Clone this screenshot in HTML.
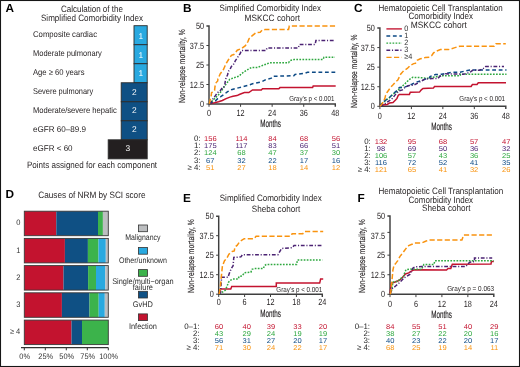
<!DOCTYPE html>
<html><head><meta charset="utf-8"><style>
html,body{margin:0;padding:0;background:#fff;width:520px;height:367px;overflow:hidden}
svg{display:block;font-family:"Liberation Sans", sans-serif;will-change:transform;text-rendering:geometricPrecision}
</style></head><body>
<svg width="520" height="367" viewBox="0 0 520 367">
<rect x="0.5" y="0.5" width="519" height="366" fill="#fff" stroke="#161616" stroke-width="1.1"/>
<text x="5.4" y="12.1" font-size="11.8" text-anchor="start" fill="#000" font-weight="bold">A</text>
<text x="91.95" y="12.1" font-size="9.2" text-anchor="middle" fill="#231f20" font-weight="normal" textLength="61.9" lengthAdjust="spacingAndGlyphs">Calculation of the</text>
<text x="92.05" y="20.8" font-size="9.2" text-anchor="middle" fill="#231f20" font-weight="normal" textLength="102.1" lengthAdjust="spacingAndGlyphs">Simplified Comorbidity Index</text>
<text x="33" y="36.8" font-size="8.4" text-anchor="start" fill="#231f20" font-weight="normal" textLength="64" lengthAdjust="spacingAndGlyphs">Composite cardiac</text>
<text x="33" y="55.82" font-size="8.4" text-anchor="start" fill="#231f20" font-weight="normal" textLength="68.8" lengthAdjust="spacingAndGlyphs">Moderate pulmonary</text>
<text x="33" y="74.84" font-size="8.4" text-anchor="start" fill="#231f20" font-weight="normal" textLength="51.5" lengthAdjust="spacingAndGlyphs">Age ≥ 60 years</text>
<text x="33" y="93.86" font-size="8.4" text-anchor="start" fill="#231f20" font-weight="normal" textLength="60.2" lengthAdjust="spacingAndGlyphs">Severe pulmonary</text>
<text x="33" y="112.88" font-size="8.4" text-anchor="start" fill="#231f20" font-weight="normal" textLength="83.8" lengthAdjust="spacingAndGlyphs">Moderate/severe hepatic</text>
<text x="33" y="131.9" font-size="8.4" text-anchor="start" fill="#231f20" font-weight="normal" textLength="53.1" lengthAdjust="spacingAndGlyphs">eGFR 60–89.9</text>
<text x="33" y="150.92" font-size="8.4" text-anchor="start" fill="#231f20" font-weight="normal" textLength="39.6" lengthAdjust="spacingAndGlyphs">eGFR &lt; 60</text>
<rect x="134" y="25.70" width="13.20" height="19.02" fill="#29a9e0" stroke="#2b2b2b" stroke-width="0.9"/>
<text x="140.8" y="39.1" font-size="8.4" text-anchor="middle" fill="#fff" font-weight="normal">1</text>
<rect x="134" y="44.72" width="13.20" height="19.02" fill="#29a9e0" stroke="#2b2b2b" stroke-width="0.9"/>
<text x="140.8" y="57.7" font-size="8.4" text-anchor="middle" fill="#fff" font-weight="normal">1</text>
<rect x="134" y="63.74" width="13.20" height="19.02" fill="#29a9e0" stroke="#2b2b2b" stroke-width="0.9"/>
<text x="140.8" y="76.4" font-size="8.4" text-anchor="middle" fill="#fff" font-weight="normal">1</text>
<rect x="121.2" y="82.76" width="26.00" height="19.02" fill="#0f5084" stroke="#2b2b2b" stroke-width="0.9"/>
<text x="134.4" y="95.3" font-size="8.4" text-anchor="middle" fill="#fff" font-weight="normal">2</text>
<rect x="121.2" y="101.78" width="26.00" height="19.02" fill="#0f5084" stroke="#2b2b2b" stroke-width="0.9"/>
<text x="134.4" y="113.0" font-size="8.4" text-anchor="middle" fill="#fff" font-weight="normal">2</text>
<rect x="121.2" y="120.80" width="26.00" height="19.02" fill="#0f5084" stroke="#2b2b2b" stroke-width="0.9"/>
<text x="134.4" y="131.5" font-size="8.4" text-anchor="middle" fill="#fff" font-weight="normal">2</text>
<rect x="108.2" y="139.82" width="39.00" height="19.02" fill="#231f20" stroke="#2b2b2b" stroke-width="0.9"/>
<text x="127.9" y="151.0" font-size="8.4" text-anchor="middle" fill="#fff" font-weight="normal">3</text>
<text x="92.05" y="167.5" font-size="9.2" text-anchor="middle" fill="#231f20" font-weight="normal" textLength="130.1" lengthAdjust="spacingAndGlyphs">Points assigned for each component</text>
<text x="183" y="12.1" font-size="11.8" text-anchor="start" fill="#000" font-weight="bold">B</text>
<text x="270.35" y="10.6" font-size="9.2" text-anchor="middle" fill="#231f20" font-weight="normal" textLength="101.5" lengthAdjust="spacingAndGlyphs">Simplified Comorbidity Index</text>
<text x="272.3" y="20.8" font-size="9.2" text-anchor="middle" fill="#231f20" font-weight="normal" textLength="55.4" lengthAdjust="spacingAndGlyphs">MSKCC cohort</text>
<path d="M206.4,26 L209,26 L209,104 L335.3,104 L335.3,106.8" fill="none" stroke="#3f3f3f" stroke-width="1.45"/>
<path d="M206.4,104.00 L209,104.00" stroke="#3f3f3f" stroke-width="1"/>
<text x="204.0" y="107.1" font-size="9" text-anchor="end" fill="#231f20" font-weight="normal" textLength="4.06" lengthAdjust="spacingAndGlyphs">0</text>
<path d="M206.4,84.50 L209,84.50" stroke="#3f3f3f" stroke-width="1"/>
<text x="204.0" y="87.6" font-size="9" text-anchor="end" fill="#231f20" font-weight="normal" textLength="14.21" lengthAdjust="spacingAndGlyphs">12.5</text>
<path d="M206.4,65.00 L209,65.00" stroke="#3f3f3f" stroke-width="1"/>
<text x="204.0" y="68.1" font-size="9" text-anchor="end" fill="#231f20" font-weight="normal" textLength="8.12" lengthAdjust="spacingAndGlyphs">25</text>
<path d="M206.4,45.50 L209,45.50" stroke="#3f3f3f" stroke-width="1"/>
<text x="204.0" y="48.6" font-size="9" text-anchor="end" fill="#231f20" font-weight="normal" textLength="14.21" lengthAdjust="spacingAndGlyphs">37.5</text>
<text x="204.0" y="29.1" font-size="9" text-anchor="end" fill="#231f20" font-weight="normal" textLength="8.12" lengthAdjust="spacingAndGlyphs">50</text>
<path d="M209.00,104 L209.00,106.8" stroke="#3f3f3f" stroke-width="1"/>
<text x="209.0" y="116.0" font-size="9" text-anchor="middle" fill="#231f20" font-weight="normal" textLength="4.06" lengthAdjust="spacingAndGlyphs">0</text>
<path d="M240.57,104 L240.57,106.8" stroke="#3f3f3f" stroke-width="1"/>
<text x="240.57" y="116.0" font-size="9" text-anchor="middle" fill="#231f20" font-weight="normal" textLength="8.12" lengthAdjust="spacingAndGlyphs">12</text>
<path d="M272.15,104 L272.15,106.8" stroke="#3f3f3f" stroke-width="1"/>
<text x="272.15" y="116.0" font-size="9" text-anchor="middle" fill="#231f20" font-weight="normal" textLength="8.12" lengthAdjust="spacingAndGlyphs">24</text>
<path d="M303.73,104 L303.73,106.8" stroke="#3f3f3f" stroke-width="1"/>
<text x="303.73" y="116.0" font-size="9" text-anchor="middle" fill="#231f20" font-weight="normal" textLength="8.12" lengthAdjust="spacingAndGlyphs">36</text>
<text x="335.3" y="116.0" font-size="9" text-anchor="middle" fill="#231f20" font-weight="normal" textLength="8.12" lengthAdjust="spacingAndGlyphs">48</text>
<text x="270.5" y="127.4" font-size="10.4" text-anchor="middle" fill="#231f20" font-weight="normal" textLength="20.6" lengthAdjust="spacingAndGlyphs" stroke="#231f20" stroke-width="0.18">Months</text>
<text x="0" y="0" font-size="8.9" text-anchor="middle" fill="#231f20" textLength="73.6" lengthAdjust="spacingAndGlyphs" stroke="#231f20" stroke-width="0.15" transform="translate(185.39999999999998,66.1) rotate(-90)">Non-relapse mortality, %</text>
<path d="M209.3,103.8 L214.6,102.8 L218.5,101.7 L222.3,100.5 L226.1,98.6 L229.9,97.1 L233,96.3 L237,95.6 L239.3,94.5 L244.4,92.6 L248.8,92.6 L252.5,90 L261.3,90 L262.5,88.8 L278.8,88.8 L280,87.6 L312.6,87.6 L313.2,86 L335.7,86" fill="none" stroke="#c3132f" stroke-width="1.5" stroke-linejoin="miter" stroke-linecap="butt"/>
<path d="M209.3,103.8 L212.3,102.4 L215.4,100.9 L217.7,98.6 L220.7,96.7 L224.6,94 L227.6,91.7 L231.4,89.8 L235.2,88.7 L239.3,87.6 L244.4,86.3 L247.5,85.5 L252.5,83.8 L261.3,82 L266.3,79.4 L271.3,78.2 L272.6,76.3 L293.8,75.7 L295,74.4 L305,73.2 L307.5,72.3 L335.7,72.3" fill="none" stroke="#0d4a85" stroke-width="1.5" stroke-dasharray="3.8,2.7" stroke-linejoin="miter" stroke-linecap="butt"/>
<path d="M209.3,103.8 L211.6,101.7 L214.6,98.6 L216.9,96.3 L219.2,94 L221.5,91 L223.8,87.2 L226.1,84.1 L228.4,81 L229.7,79.4 L233.8,77.8 L238.7,76.2 L243.6,72.1 L251.3,67.5 L257.5,67.5 L263.8,65 L270,62.7 L288.6,62.7 L290,60.6 L294,59.5 L323,59.5 L324,57.3 L335,57.3" fill="none" stroke="#2ea83f" stroke-width="1.5" stroke-dasharray="1.7,1.36" stroke-linejoin="miter" stroke-linecap="butt"/>
<path d="M209.3,103.8 L210.8,102.4 L213.1,98.6 L215.4,95.6 L217.7,92.5 L220,91 L222.3,87.9 L223.8,87.2 L224.9,84.1 L225.3,81 L226,78.2 L227.7,74.5 L228.1,71.7 L230.1,69.2 L231.4,66.4 L233.8,63.9 L235.4,60.6 L237.1,58.2 L238.7,55.7 L240.3,53.3 L241.4,50.6 L265.8,50.6 L267.2,47.9 L298.2,47.9 L299.5,44.5 L315.2,44.5 L315.9,40.4 L335,40.4" fill="none" stroke="#4b2373" stroke-width="1.5" stroke-dasharray="3.8,1.75,1.1,1.75" stroke-linejoin="miter" stroke-linecap="butt"/>
<path d="M209.3,103.8 L210,100.9 L211.2,95.6 L211.6,92.5 L213.9,91.7 L214.6,90.2 L215,86.4 L216.2,82.6 L217.7,81 L217.9,79 L220.3,73.7 L223.2,70 L225.2,65.5 L226.4,63.1 L228.9,59 L231.4,55.3 L233.8,54.5 L235.9,52 L237.3,50.2 L241.4,48.5 L245.4,45.7 L247.9,41.6 L249.1,38.7 L252,35.9 L256.1,32.6 L260.2,32.2 L262.2,30.1 L265,29.5 L288.6,29.5 L289.3,26.1 L335.6,26.1" fill="none" stroke="#f9930f" stroke-width="1.5" stroke-dasharray="5.2,2.4" stroke-linejoin="miter" stroke-linecap="butt"/>
<text x="311.8" y="100.6" font-size="7.3" text-anchor="middle" fill="#231f20" font-weight="normal" textLength="45.2" lengthAdjust="spacingAndGlyphs">Gray’s p &lt; 0.001</text>
<text x="200.5" y="141.0" font-size="7.9" text-anchor="end" fill="#262626" font-weight="normal">0:</text>
<text x="210.3" y="141.0" font-size="7" text-anchor="middle" fill="#c3132f" font-weight="normal" textLength="12.61" lengthAdjust="spacingAndGlyphs">156</text>
<text x="241.5" y="141.0" font-size="7" text-anchor="middle" fill="#c3132f" font-weight="normal" textLength="12.05" lengthAdjust="spacingAndGlyphs">114</text>
<text x="272.5" y="141.0" font-size="7" text-anchor="middle" fill="#c3132f" font-weight="normal" textLength="8.41" lengthAdjust="spacingAndGlyphs">84</text>
<text x="304" y="141.0" font-size="7" text-anchor="middle" fill="#c3132f" font-weight="normal" textLength="8.41" lengthAdjust="spacingAndGlyphs">68</text>
<text x="336" y="141.0" font-size="7" text-anchor="middle" fill="#c3132f" font-weight="normal" textLength="8.41" lengthAdjust="spacingAndGlyphs">56</text>
<text x="200.5" y="148.2" font-size="7.9" text-anchor="end" fill="#262626" font-weight="normal">1:</text>
<text x="210.3" y="148.2" font-size="7" text-anchor="middle" fill="#4b2373" font-weight="normal" textLength="12.61" lengthAdjust="spacingAndGlyphs">175</text>
<text x="241.5" y="148.2" font-size="7" text-anchor="middle" fill="#4b2373" font-weight="normal" textLength="12.05" lengthAdjust="spacingAndGlyphs">117</text>
<text x="272.5" y="148.2" font-size="7" text-anchor="middle" fill="#4b2373" font-weight="normal" textLength="8.41" lengthAdjust="spacingAndGlyphs">83</text>
<text x="304" y="148.2" font-size="7" text-anchor="middle" fill="#4b2373" font-weight="normal" textLength="8.41" lengthAdjust="spacingAndGlyphs">66</text>
<text x="336" y="148.2" font-size="7" text-anchor="middle" fill="#4b2373" font-weight="normal" textLength="8.41" lengthAdjust="spacingAndGlyphs">51</text>
<text x="200.5" y="155.4" font-size="7.9" text-anchor="end" fill="#262626" font-weight="normal">2:</text>
<text x="210.3" y="155.4" font-size="7" text-anchor="middle" fill="#2ea83f" font-weight="normal" textLength="12.61" lengthAdjust="spacingAndGlyphs">124</text>
<text x="241.5" y="155.4" font-size="7" text-anchor="middle" fill="#2ea83f" font-weight="normal" textLength="8.41" lengthAdjust="spacingAndGlyphs">68</text>
<text x="272.5" y="155.4" font-size="7" text-anchor="middle" fill="#2ea83f" font-weight="normal" textLength="8.41" lengthAdjust="spacingAndGlyphs">47</text>
<text x="304" y="155.4" font-size="7" text-anchor="middle" fill="#2ea83f" font-weight="normal" textLength="8.41" lengthAdjust="spacingAndGlyphs">37</text>
<text x="336" y="155.4" font-size="7" text-anchor="middle" fill="#2ea83f" font-weight="normal" textLength="8.41" lengthAdjust="spacingAndGlyphs">30</text>
<text x="200.5" y="162.6" font-size="7.9" text-anchor="end" fill="#262626" font-weight="normal">3:</text>
<text x="210.3" y="162.6" font-size="7" text-anchor="middle" fill="#0d4a85" font-weight="normal" textLength="8.41" lengthAdjust="spacingAndGlyphs">67</text>
<text x="241.5" y="162.6" font-size="7" text-anchor="middle" fill="#0d4a85" font-weight="normal" textLength="8.41" lengthAdjust="spacingAndGlyphs">32</text>
<text x="272.5" y="162.6" font-size="7" text-anchor="middle" fill="#0d4a85" font-weight="normal" textLength="8.41" lengthAdjust="spacingAndGlyphs">22</text>
<text x="304" y="162.6" font-size="7" text-anchor="middle" fill="#0d4a85" font-weight="normal" textLength="8.41" lengthAdjust="spacingAndGlyphs">17</text>
<text x="336" y="162.6" font-size="7" text-anchor="middle" fill="#0d4a85" font-weight="normal" textLength="8.41" lengthAdjust="spacingAndGlyphs">16</text>
<text x="200.5" y="169.8" font-size="7.9" text-anchor="end" fill="#262626" font-weight="normal">≥ 4:</text>
<text x="210.3" y="169.8" font-size="7" text-anchor="middle" fill="#f9930f" font-weight="normal" textLength="8.41" lengthAdjust="spacingAndGlyphs">51</text>
<text x="241.5" y="169.8" font-size="7" text-anchor="middle" fill="#f9930f" font-weight="normal" textLength="8.41" lengthAdjust="spacingAndGlyphs">27</text>
<text x="272.5" y="169.8" font-size="7" text-anchor="middle" fill="#f9930f" font-weight="normal" textLength="8.41" lengthAdjust="spacingAndGlyphs">18</text>
<text x="304" y="169.8" font-size="7" text-anchor="middle" fill="#f9930f" font-weight="normal" textLength="8.41" lengthAdjust="spacingAndGlyphs">14</text>
<text x="336" y="169.8" font-size="7" text-anchor="middle" fill="#f9930f" font-weight="normal" textLength="8.41" lengthAdjust="spacingAndGlyphs">12</text>
<text x="354" y="12.2" font-size="11.8" text-anchor="start" fill="#000" font-weight="bold">C</text>
<text x="440.5" y="10.5" font-size="9.2" text-anchor="middle" fill="#231f20" font-weight="normal" textLength="124.2" lengthAdjust="spacingAndGlyphs">Hematopoietic Cell Transplantation</text>
<text x="440.8" y="18.8" font-size="9.2" text-anchor="middle" fill="#231f20" font-weight="normal" textLength="64.4" lengthAdjust="spacingAndGlyphs">Comorbidity Index</text>
<text x="438.8" y="27.6" font-size="9.2" text-anchor="middle" fill="#231f20" font-weight="normal" textLength="56.2" lengthAdjust="spacingAndGlyphs">MSKCC cohort</text>
<path d="M377.29999999999995,28 L379.9,28 L379.9,106.3 L505.8,106.3 L505.8,109.1" fill="none" stroke="#3f3f3f" stroke-width="1.45"/>
<path d="M377.29999999999995,106.30 L379.9,106.30" stroke="#3f3f3f" stroke-width="1"/>
<text x="374.9" y="109.4" font-size="9" text-anchor="end" fill="#231f20" font-weight="normal" textLength="4.06" lengthAdjust="spacingAndGlyphs">0</text>
<path d="M377.29999999999995,86.72 L379.9,86.72" stroke="#3f3f3f" stroke-width="1"/>
<text x="374.9" y="89.82" font-size="9" text-anchor="end" fill="#231f20" font-weight="normal" textLength="14.21" lengthAdjust="spacingAndGlyphs">12.5</text>
<path d="M377.29999999999995,67.15 L379.9,67.15" stroke="#3f3f3f" stroke-width="1"/>
<text x="374.9" y="70.25" font-size="9" text-anchor="end" fill="#231f20" font-weight="normal" textLength="8.12" lengthAdjust="spacingAndGlyphs">25</text>
<path d="M377.29999999999995,47.58 L379.9,47.58" stroke="#3f3f3f" stroke-width="1"/>
<text x="374.9" y="50.68" font-size="9" text-anchor="end" fill="#231f20" font-weight="normal" textLength="14.21" lengthAdjust="spacingAndGlyphs">37.5</text>
<text x="374.9" y="31.1" font-size="9" text-anchor="end" fill="#231f20" font-weight="normal" textLength="8.12" lengthAdjust="spacingAndGlyphs">50</text>
<path d="M379.90,106.3 L379.90,109.1" stroke="#3f3f3f" stroke-width="1"/>
<text x="379.9" y="118.7" font-size="9" text-anchor="middle" fill="#231f20" font-weight="normal" textLength="4.06" lengthAdjust="spacingAndGlyphs">0</text>
<path d="M411.38,106.3 L411.38,109.1" stroke="#3f3f3f" stroke-width="1"/>
<text x="411.38" y="118.7" font-size="9" text-anchor="middle" fill="#231f20" font-weight="normal" textLength="8.12" lengthAdjust="spacingAndGlyphs">12</text>
<path d="M442.85,106.3 L442.85,109.1" stroke="#3f3f3f" stroke-width="1"/>
<text x="442.85" y="118.7" font-size="9" text-anchor="middle" fill="#231f20" font-weight="normal" textLength="8.12" lengthAdjust="spacingAndGlyphs">24</text>
<path d="M474.32,106.3 L474.32,109.1" stroke="#3f3f3f" stroke-width="1"/>
<text x="474.32" y="118.7" font-size="9" text-anchor="middle" fill="#231f20" font-weight="normal" textLength="8.12" lengthAdjust="spacingAndGlyphs">36</text>
<text x="505.8" y="118.7" font-size="9" text-anchor="middle" fill="#231f20" font-weight="normal" textLength="8.12" lengthAdjust="spacingAndGlyphs">48</text>
<text x="441.5" y="129.7" font-size="10.4" text-anchor="middle" fill="#231f20" font-weight="normal" textLength="20.6" lengthAdjust="spacingAndGlyphs" stroke="#231f20" stroke-width="0.18">Months</text>
<text x="0" y="0" font-size="8.9" text-anchor="middle" fill="#231f20" textLength="73.6" lengthAdjust="spacingAndGlyphs" stroke="#231f20" stroke-width="0.15" transform="translate(357.2,71.19999999999999) rotate(-90)">Non-relapse mortality, %</text>
<path d="M386.4,28.90 L401.9,28.90" stroke="#c3132f" stroke-width="1.35" fill="none"/>
<text x="404.3" y="31.0" font-size="7.8" text-anchor="start" fill="#333" font-weight="normal" textLength="4.06" lengthAdjust="spacingAndGlyphs">0</text>
<path d="M386.4,36.00 L401.9,36.00" stroke="#0d4a85" stroke-width="1.35" fill="none" stroke-dasharray="3.8,2.7"/>
<text x="404.3" y="38.1" font-size="7.8" text-anchor="start" fill="#333" font-weight="normal" textLength="4.06" lengthAdjust="spacingAndGlyphs">1</text>
<path d="M386.4,43.10 L401.9,43.10" stroke="#2ea83f" stroke-width="1.35" fill="none" stroke-dasharray="1.7,1.36"/>
<text x="404.3" y="45.2" font-size="7.8" text-anchor="start" fill="#333" font-weight="normal" textLength="4.06" lengthAdjust="spacingAndGlyphs">2</text>
<path d="M386.4,50.20 L401.9,50.20" stroke="#4b2373" stroke-width="1.35" fill="none" stroke-dasharray="3.8,1.75,1.1,1.75"/>
<text x="404.3" y="52.3" font-size="7.8" text-anchor="start" fill="#333" font-weight="normal" textLength="4.06" lengthAdjust="spacingAndGlyphs">3</text>
<path d="M386.4,57.30 L401.9,57.30" stroke="#f9930f" stroke-width="1.35" fill="none" stroke-dasharray="5.2,2.4"/>
<text x="404.3" y="59.4" font-size="7.8" text-anchor="start" fill="#333" font-weight="normal" textLength="8.07" lengthAdjust="spacingAndGlyphs">≥4</text>
<path d="M379.9,106.3 L380.3,105.3 L387.2,104.5 L389.5,103 L393,102.6 L395.3,100.2 L397,98.4 L398.2,95.5 L399.3,94.4 L409.4,94.4 L410.3,92.2 L419.5,92.1 L421.3,89.8 L423,88.4 L433.4,88.1 L434.5,86.5 L471.1,86.5 L472.4,84.5 L477,84.5 L478.3,82.7 L506,82.7" fill="none" stroke="#c3132f" stroke-width="1.5" stroke-linejoin="miter" stroke-linecap="butt"/>
<path d="M379.9,106.3 L381.8,103.7 L385.6,100.6 L389.5,97.6 L393.3,94.1 L397.1,91.1 L400.9,87.6 L404,84.6 L405.4,83.3 L409.1,79.6 L412.8,77.3 L421.1,77.7 L425.8,78.2 L430,78.1 L434.6,76.9 L441.5,75.8 L460,75.8 L460.8,74.2 L506.5,74.2" fill="none" stroke="#2ea83f" stroke-width="1.5" stroke-dasharray="1.7,1.36" stroke-linejoin="miter" stroke-linecap="butt"/>
<path d="M379.9,106.3 L382.6,102.1 L385.6,100.2 L390.2,96.8 L393.3,93.7 L396.3,91.1 L399.4,87.6 L403.6,87.5 L407.3,86.1 L411.9,84.2 L415.6,82.4 L420.2,81 L423.9,79.6 L429.5,77.7 L430,76.5 L435.4,74.6 L441.5,74.2 L451.5,72.3 L459.2,72.3 L464.6,71.2 L470,70 L506.5,69.9" fill="none" stroke="#0d4a85" stroke-width="1.5" stroke-dasharray="3.8,2.7" stroke-linejoin="miter" stroke-linecap="butt"/>
<path d="M379.9,106.3 L384.1,104.4 L387.2,102.1 L389.5,100.6 L392.5,98.3 L396.3,93.4 L399.4,90.7 L402.4,89.9 L405.4,87 L409.1,85.6 L413.7,85.1 L418.4,82.8 L423.9,79.6 L428.6,78.7 L432.3,78.5 L437.7,78.5 L440,76.2 L445.4,73.8 L463.8,74.2 L470,72.3 L472.6,70.3 L479.5,70.3 L484.2,68 L485.7,66.5 L504,66.5" fill="none" stroke="#4b2373" stroke-width="1.5" stroke-dasharray="3.8,1.75,1.1,1.75" stroke-linejoin="miter" stroke-linecap="butt"/>
<path d="M379.9,106.3 L381,105.2 L383.3,102.1 L384.9,98.3 L385.6,95.3 L387.2,92.2 L389.1,89.5 L391,86.9 L393.3,84.6 L395.6,81.9 L397.8,80 L400.8,74 L403.6,70.8 L407.3,68.5 L410.5,65.3 L413.7,63.6 L415.4,63.3 L417.1,60.4 L420.3,58.8 L425.3,57.6 L429.3,57.2 L431.8,55.5 L433.4,53.1 L434.6,51.9 L440.4,49.6 L448.5,49.6 L454.2,47.9 L459.6,46.2 L494.2,46.2 L496,43.8 L505.8,43.8" fill="none" stroke="#f9930f" stroke-width="1.5" stroke-dasharray="5.2,2.4" stroke-linejoin="miter" stroke-linecap="butt"/>
<text x="482.2" y="101.2" font-size="7.3" text-anchor="middle" fill="#231f20" font-weight="normal" textLength="45.8" lengthAdjust="spacingAndGlyphs">Gray’s p &lt; 0.001</text>
<text x="370.8" y="144.0" font-size="7.9" text-anchor="end" fill="#262626" font-weight="normal">0:</text>
<text x="381" y="144.0" font-size="7" text-anchor="middle" fill="#c3132f" font-weight="normal" textLength="12.61" lengthAdjust="spacingAndGlyphs">132</text>
<text x="412" y="144.0" font-size="7" text-anchor="middle" fill="#c3132f" font-weight="normal" textLength="8.41" lengthAdjust="spacingAndGlyphs">95</text>
<text x="443" y="144.0" font-size="7" text-anchor="middle" fill="#c3132f" font-weight="normal" textLength="8.41" lengthAdjust="spacingAndGlyphs">68</text>
<text x="474.1" y="144.0" font-size="7" text-anchor="middle" fill="#c3132f" font-weight="normal" textLength="8.41" lengthAdjust="spacingAndGlyphs">57</text>
<text x="506.2" y="144.0" font-size="7" text-anchor="middle" fill="#c3132f" font-weight="normal" textLength="8.41" lengthAdjust="spacingAndGlyphs">47</text>
<text x="370.8" y="151.1" font-size="7.9" text-anchor="end" fill="#262626" font-weight="normal">1:</text>
<text x="381" y="151.1" font-size="7" text-anchor="middle" fill="#4b2373" font-weight="normal" textLength="8.41" lengthAdjust="spacingAndGlyphs">98</text>
<text x="412" y="151.1" font-size="7" text-anchor="middle" fill="#4b2373" font-weight="normal" textLength="8.41" lengthAdjust="spacingAndGlyphs">69</text>
<text x="443" y="151.1" font-size="7" text-anchor="middle" fill="#4b2373" font-weight="normal" textLength="8.41" lengthAdjust="spacingAndGlyphs">50</text>
<text x="474.1" y="151.1" font-size="7" text-anchor="middle" fill="#4b2373" font-weight="normal" textLength="8.41" lengthAdjust="spacingAndGlyphs">36</text>
<text x="506.2" y="151.1" font-size="7" text-anchor="middle" fill="#4b2373" font-weight="normal" textLength="8.41" lengthAdjust="spacingAndGlyphs">32</text>
<text x="370.8" y="158.2" font-size="7.9" text-anchor="end" fill="#262626" font-weight="normal">2:</text>
<text x="381" y="158.2" font-size="7" text-anchor="middle" fill="#2ea83f" font-weight="normal" textLength="12.61" lengthAdjust="spacingAndGlyphs">106</text>
<text x="412" y="158.2" font-size="7" text-anchor="middle" fill="#2ea83f" font-weight="normal" textLength="8.41" lengthAdjust="spacingAndGlyphs">57</text>
<text x="443" y="158.2" font-size="7" text-anchor="middle" fill="#2ea83f" font-weight="normal" textLength="8.41" lengthAdjust="spacingAndGlyphs">43</text>
<text x="474.1" y="158.2" font-size="7" text-anchor="middle" fill="#2ea83f" font-weight="normal" textLength="8.41" lengthAdjust="spacingAndGlyphs">36</text>
<text x="506.2" y="158.2" font-size="7" text-anchor="middle" fill="#2ea83f" font-weight="normal" textLength="8.41" lengthAdjust="spacingAndGlyphs">25</text>
<text x="370.8" y="165.3" font-size="7.9" text-anchor="end" fill="#262626" font-weight="normal">3:</text>
<text x="381" y="165.3" font-size="7" text-anchor="middle" fill="#0d4a85" font-weight="normal" textLength="12.05" lengthAdjust="spacingAndGlyphs">116</text>
<text x="412" y="165.3" font-size="7" text-anchor="middle" fill="#0d4a85" font-weight="normal" textLength="8.41" lengthAdjust="spacingAndGlyphs">72</text>
<text x="443" y="165.3" font-size="7" text-anchor="middle" fill="#0d4a85" font-weight="normal" textLength="8.41" lengthAdjust="spacingAndGlyphs">52</text>
<text x="474.1" y="165.3" font-size="7" text-anchor="middle" fill="#0d4a85" font-weight="normal" textLength="8.41" lengthAdjust="spacingAndGlyphs">41</text>
<text x="506.2" y="165.3" font-size="7" text-anchor="middle" fill="#0d4a85" font-weight="normal" textLength="8.41" lengthAdjust="spacingAndGlyphs">35</text>
<text x="370.8" y="172.4" font-size="7.9" text-anchor="end" fill="#262626" font-weight="normal">≥ 4:</text>
<text x="381" y="172.4" font-size="7" text-anchor="middle" fill="#f9930f" font-weight="normal" textLength="12.61" lengthAdjust="spacingAndGlyphs">121</text>
<text x="412" y="172.4" font-size="7" text-anchor="middle" fill="#f9930f" font-weight="normal" textLength="8.41" lengthAdjust="spacingAndGlyphs">65</text>
<text x="443" y="172.4" font-size="7" text-anchor="middle" fill="#f9930f" font-weight="normal" textLength="8.41" lengthAdjust="spacingAndGlyphs">41</text>
<text x="474.1" y="172.4" font-size="7" text-anchor="middle" fill="#f9930f" font-weight="normal" textLength="8.41" lengthAdjust="spacingAndGlyphs">32</text>
<text x="506.2" y="172.4" font-size="7" text-anchor="middle" fill="#f9930f" font-weight="normal" textLength="8.41" lengthAdjust="spacingAndGlyphs">26</text>
<text x="5.6" y="197.8" font-size="11.8" text-anchor="start" fill="#000" font-weight="bold">D</text>
<text x="91.9" y="198.1" font-size="9.2" text-anchor="middle" fill="#231f20" font-weight="normal" textLength="107.2" lengthAdjust="spacingAndGlyphs">Causes of NRM by SCI score</text>
<rect x="24.30" y="211.2" width="32.00" height="24.5" fill="#c3132f"/>
<rect x="56.30" y="211.2" width="41.70" height="24.5" fill="#0f5084"/>
<rect x="98.00" y="211.2" width="4.90" height="24.5" fill="#3cb34b"/>
<rect x="102.90" y="211.2" width="5.40" height="24.5" fill="#bcbec0"/>
<rect x="24.3" y="211.2" width="84.00" height="24.5" fill="none" stroke="#3a3a3a" stroke-width="0.9"/>
<text x="20.3" y="225.35" font-size="8" text-anchor="end" fill="#333" font-weight="normal" textLength="4.17" lengthAdjust="spacingAndGlyphs">0</text>
<rect x="24.30" y="238.4" width="40.60" height="24.5" fill="#c3132f"/>
<rect x="64.90" y="238.4" width="23.00" height="24.5" fill="#0f5084"/>
<rect x="87.90" y="238.4" width="10.60" height="24.5" fill="#3cb34b"/>
<rect x="98.50" y="238.4" width="7.30" height="24.5" fill="#29a9e0"/>
<rect x="105.80" y="238.4" width="2.50" height="24.5" fill="#bcbec0"/>
<rect x="24.3" y="238.4" width="84.00" height="24.5" fill="none" stroke="#3a3a3a" stroke-width="0.9"/>
<text x="20.3" y="252.55" font-size="8" text-anchor="end" fill="#333" font-weight="normal" textLength="4.17" lengthAdjust="spacingAndGlyphs">1</text>
<rect x="24.30" y="265.6" width="39.20" height="24.5" fill="#c3132f"/>
<rect x="63.50" y="265.6" width="24.60" height="24.5" fill="#0f5084"/>
<rect x="88.10" y="265.6" width="7.90" height="24.5" fill="#3cb34b"/>
<rect x="96.00" y="265.6" width="9.30" height="24.5" fill="#29a9e0"/>
<rect x="105.30" y="265.6" width="3.00" height="24.5" fill="#bcbec0"/>
<rect x="24.3" y="265.6" width="84.00" height="24.5" fill="none" stroke="#3a3a3a" stroke-width="0.9"/>
<text x="20.3" y="279.75" font-size="8" text-anchor="end" fill="#333" font-weight="normal" textLength="4.17" lengthAdjust="spacingAndGlyphs">2</text>
<rect x="24.30" y="292.8" width="37.60" height="24.5" fill="#c3132f"/>
<rect x="61.90" y="292.8" width="27.60" height="24.5" fill="#0f5084"/>
<rect x="89.50" y="292.8" width="9.20" height="24.5" fill="#3cb34b"/>
<rect x="98.70" y="292.8" width="6.10" height="24.5" fill="#29a9e0"/>
<rect x="104.80" y="292.8" width="3.50" height="24.5" fill="#bcbec0"/>
<rect x="24.3" y="292.8" width="84.00" height="24.5" fill="none" stroke="#3a3a3a" stroke-width="0.9"/>
<text x="20.3" y="306.95" font-size="8" text-anchor="end" fill="#333" font-weight="normal" textLength="4.17" lengthAdjust="spacingAndGlyphs">3</text>
<rect x="24.30" y="320.1" width="47.20" height="24.5" fill="#c3132f"/>
<rect x="71.50" y="320.1" width="10.50" height="24.5" fill="#0f5084"/>
<rect x="82.00" y="320.1" width="26.30" height="24.5" fill="#3cb34b"/>
<rect x="24.3" y="320.1" width="84.00" height="24.5" fill="none" stroke="#3a3a3a" stroke-width="0.9"/>
<text x="20.3" y="334.25" font-size="8" text-anchor="end" fill="#333" font-weight="normal" textLength="10.37" lengthAdjust="spacingAndGlyphs">≥ 4</text>
<path d="M21,347.6 L108.3,347.6" stroke="#333" stroke-width="1.1"/>
<path d="M24.30,347.6 L24.30,350.3" stroke="#333" stroke-width="1"/>
<text x="24.7" y="358.9" font-size="8" text-anchor="middle" fill="#333" font-weight="normal" textLength="10.7" lengthAdjust="spacingAndGlyphs">0%</text>
<path d="M45.30,347.6 L45.30,350.3" stroke="#333" stroke-width="1"/>
<text x="45.7" y="358.9" font-size="8" text-anchor="middle" fill="#333" font-weight="normal" textLength="14.81" lengthAdjust="spacingAndGlyphs">25%</text>
<path d="M66.30,347.6 L66.30,350.3" stroke="#333" stroke-width="1"/>
<text x="66.7" y="358.9" font-size="8" text-anchor="middle" fill="#333" font-weight="normal" textLength="14.81" lengthAdjust="spacingAndGlyphs">50%</text>
<path d="M87.30,347.6 L87.30,350.3" stroke="#333" stroke-width="1"/>
<text x="87.7" y="358.9" font-size="8" text-anchor="middle" fill="#333" font-weight="normal" textLength="14.81" lengthAdjust="spacingAndGlyphs">75%</text>
<path d="M108.30,347.6 L108.30,350.3" stroke="#333" stroke-width="1"/>
<text x="108.7" y="358.9" font-size="8" text-anchor="middle" fill="#333" font-weight="normal" textLength="18.93" lengthAdjust="spacingAndGlyphs">100%</text>
<rect x="138.4" y="225.0" width="9.1" height="6.7" fill="#bcbec0" stroke="#333" stroke-width="0.8"/>
<text x="142.9" y="240.2" font-size="8.2" text-anchor="middle" fill="#2b2b2b" font-weight="normal" textLength="35.2" lengthAdjust="spacingAndGlyphs">Malignancy</text>
<rect x="138.4" y="247.5" width="9.1" height="6.7" fill="#29a9e0" stroke="#333" stroke-width="0.8"/>
<text x="142.9" y="262.7" font-size="8.2" text-anchor="middle" fill="#2b2b2b" font-weight="normal" textLength="48.0" lengthAdjust="spacingAndGlyphs">Other/unknown</text>
<rect x="138.4" y="269.6" width="9.1" height="6.7" fill="#3cb34b" stroke="#333" stroke-width="0.8"/>
<text x="142.9" y="283.5" font-size="8.2" text-anchor="middle" fill="#2b2b2b" font-weight="normal" textLength="61.5" lengthAdjust="spacingAndGlyphs">Single/multi−organ</text>
<text x="142.9" y="289.5" font-size="8.2" text-anchor="middle" fill="#2b2b2b" font-weight="normal" textLength="20.16" lengthAdjust="spacingAndGlyphs">failure</text>
<rect x="138.4" y="291.3" width="9.1" height="6.7" fill="#0f5084" stroke="#333" stroke-width="0.8"/>
<text x="142.9" y="306.5" font-size="8.2" text-anchor="middle" fill="#2b2b2b" font-weight="normal" textLength="20.14" lengthAdjust="spacingAndGlyphs">GvHD</text>
<rect x="138.4" y="313.9" width="9.1" height="6.7" fill="#c3132f" stroke="#333" stroke-width="0.8"/>
<text x="142.9" y="329.1" font-size="8.2" text-anchor="middle" fill="#2b2b2b" font-weight="normal" textLength="27.97" lengthAdjust="spacingAndGlyphs">Infection</text>
<text x="183" y="202" font-size="11.8" text-anchor="start" fill="#000" font-weight="bold">E</text>
<text x="270.75" y="201" font-size="9.2" text-anchor="middle" fill="#231f20" font-weight="normal" textLength="102" lengthAdjust="spacingAndGlyphs">Simplified Comorbidity Index</text>
<text x="276" y="211.5" font-size="9.2" text-anchor="middle" fill="#231f20" font-weight="normal" textLength="48.3" lengthAdjust="spacingAndGlyphs">Sheba cohort</text>
<path d="M216.1,216.2 L218.7,216.2 L218.7,294.2 L322.3,294.2 L322.3,297.0" fill="none" stroke="#3f3f3f" stroke-width="1.45"/>
<path d="M216.1,294.20 L218.7,294.20" stroke="#3f3f3f" stroke-width="1"/>
<text x="213.7" y="297.3" font-size="9" text-anchor="end" fill="#231f20" font-weight="normal" textLength="4.06" lengthAdjust="spacingAndGlyphs">0</text>
<path d="M216.1,274.70 L218.7,274.70" stroke="#3f3f3f" stroke-width="1"/>
<text x="213.7" y="277.8" font-size="9" text-anchor="end" fill="#231f20" font-weight="normal" textLength="14.21" lengthAdjust="spacingAndGlyphs">12.5</text>
<path d="M216.1,255.20 L218.7,255.20" stroke="#3f3f3f" stroke-width="1"/>
<text x="213.7" y="258.3" font-size="9" text-anchor="end" fill="#231f20" font-weight="normal" textLength="8.12" lengthAdjust="spacingAndGlyphs">25</text>
<path d="M216.1,235.70 L218.7,235.70" stroke="#3f3f3f" stroke-width="1"/>
<text x="213.7" y="238.8" font-size="9" text-anchor="end" fill="#231f20" font-weight="normal" textLength="14.21" lengthAdjust="spacingAndGlyphs">37.5</text>
<text x="213.7" y="219.3" font-size="9" text-anchor="end" fill="#231f20" font-weight="normal" textLength="8.12" lengthAdjust="spacingAndGlyphs">50</text>
<path d="M218.70,294.2 L218.70,297.0" stroke="#3f3f3f" stroke-width="1"/>
<text x="218.7" y="305.1" font-size="9" text-anchor="middle" fill="#231f20" font-weight="normal" textLength="4.06" lengthAdjust="spacingAndGlyphs">0</text>
<path d="M244.60,294.2 L244.60,297.0" stroke="#3f3f3f" stroke-width="1"/>
<text x="244.6" y="305.1" font-size="9" text-anchor="middle" fill="#231f20" font-weight="normal" textLength="4.06" lengthAdjust="spacingAndGlyphs">6</text>
<path d="M270.50,294.2 L270.50,297.0" stroke="#3f3f3f" stroke-width="1"/>
<text x="270.5" y="305.1" font-size="9" text-anchor="middle" fill="#231f20" font-weight="normal" textLength="8.12" lengthAdjust="spacingAndGlyphs">12</text>
<path d="M296.40,294.2 L296.40,297.0" stroke="#3f3f3f" stroke-width="1"/>
<text x="296.4" y="305.1" font-size="9" text-anchor="middle" fill="#231f20" font-weight="normal" textLength="8.12" lengthAdjust="spacingAndGlyphs">18</text>
<text x="322.3" y="305.1" font-size="9" text-anchor="middle" fill="#231f20" font-weight="normal" textLength="8.12" lengthAdjust="spacingAndGlyphs">24</text>
<text x="270.6" y="316.7" font-size="10.4" text-anchor="middle" fill="#231f20" font-weight="normal" textLength="20.6" lengthAdjust="spacingAndGlyphs" stroke="#231f20" stroke-width="0.18">Months</text>
<text x="0" y="0" font-size="8.9" text-anchor="middle" fill="#231f20" textLength="73.6" lengthAdjust="spacingAndGlyphs" stroke="#231f20" stroke-width="0.15" transform="translate(194.1,256.1) rotate(-90)">Non-relapse mortality, %</text>
<path d="M219.2,294 L220.6,288.9 L230.8,288.9 L231.7,286.5 L276.3,286.5 L276.3,283.1 L319.7,283.1 L320.6,279 L323.2,279" fill="none" stroke="#c3132f" stroke-width="1.5" stroke-linejoin="miter" stroke-linecap="butt"/>
<path d="M219.2,294 L221.6,292.6 L225.3,290.2 L227.1,286.1 L228.5,282.4 L229.9,280.5 L232.7,279.1 L238.2,279.1 L239.1,276.4 L242.2,276 L244.4,272.7 L250.9,272.2 L252,269.4 L254.2,268.6 L263.4,268.6 L264.5,265.6 L266.2,264.5 L296.6,264.5 L297.5,260 L322.3,260" fill="none" stroke="#2ea83f" stroke-width="1.5" stroke-dasharray="1.7,1.36" stroke-linejoin="miter" stroke-linecap="butt"/>
<path d="M219.2,294 L220.6,292.6 L221.1,284.2 L221.6,277.3 L228,277.3 L229.4,273.1 L231.3,268.5 L233.1,265.7 L233.8,257.4 L240.9,256.9 L242.5,254.7 L278,254.7 L281.6,248.5 L292.2,247.7 L294,245.5 L322.3,245.5" fill="none" stroke="#4b2373" stroke-width="1.5" stroke-dasharray="3.8,1.75,1.1,1.75" stroke-linejoin="miter" stroke-linecap="butt"/>
<path d="M219.2,294 L220.2,288 L221.6,274 L222.4,266.1 L224.5,260.7 L226.7,258.5 L228.9,254.2 L232.2,251.4 L234.3,250.9 L234.9,247.1 L237.1,245.4 L239.3,242.2 L242,240 L244.2,238.7 L254,238.7 L256.1,236.2 L290.4,236.2 L292.2,233.7 L302.8,233.7 L304.6,231.4 L323.2,231.4" fill="none" stroke="#f9930f" stroke-width="1.5" stroke-dasharray="5.2,2.4" stroke-linejoin="miter" stroke-linecap="butt"/>
<text x="299.3" y="291.5" font-size="7.3" text-anchor="middle" fill="#231f20" font-weight="normal" textLength="46" lengthAdjust="spacingAndGlyphs">Gray’s p &lt; 0.001</text>
<text x="199.6" y="329.0" font-size="7.9" text-anchor="end" fill="#262626" font-weight="normal">0–1:</text>
<text x="218.9" y="329.0" font-size="7" text-anchor="middle" fill="#c3132f" font-weight="normal" textLength="8.41" lengthAdjust="spacingAndGlyphs">60</text>
<text x="246.7" y="329.0" font-size="7" text-anchor="middle" fill="#c3132f" font-weight="normal" textLength="8.41" lengthAdjust="spacingAndGlyphs">40</text>
<text x="271" y="329.0" font-size="7" text-anchor="middle" fill="#c3132f" font-weight="normal" textLength="8.41" lengthAdjust="spacingAndGlyphs">39</text>
<text x="297.5" y="329.0" font-size="7" text-anchor="middle" fill="#c3132f" font-weight="normal" textLength="8.41" lengthAdjust="spacingAndGlyphs">33</text>
<text x="322.9" y="329.0" font-size="7" text-anchor="middle" fill="#c3132f" font-weight="normal" textLength="8.41" lengthAdjust="spacingAndGlyphs">20</text>
<text x="199.6" y="336.1" font-size="7.9" text-anchor="end" fill="#262626" font-weight="normal">2:</text>
<text x="218.9" y="336.1" font-size="7" text-anchor="middle" fill="#2ea83f" font-weight="normal" textLength="8.41" lengthAdjust="spacingAndGlyphs">43</text>
<text x="246.7" y="336.1" font-size="7" text-anchor="middle" fill="#2ea83f" font-weight="normal" textLength="8.41" lengthAdjust="spacingAndGlyphs">29</text>
<text x="271" y="336.1" font-size="7" text-anchor="middle" fill="#2ea83f" font-weight="normal" textLength="8.41" lengthAdjust="spacingAndGlyphs">24</text>
<text x="297.5" y="336.1" font-size="7" text-anchor="middle" fill="#2ea83f" font-weight="normal" textLength="8.41" lengthAdjust="spacingAndGlyphs">19</text>
<text x="322.9" y="336.1" font-size="7" text-anchor="middle" fill="#2ea83f" font-weight="normal" textLength="8.41" lengthAdjust="spacingAndGlyphs">19</text>
<text x="199.6" y="343.2" font-size="7.9" text-anchor="end" fill="#262626" font-weight="normal">3:</text>
<text x="218.9" y="343.2" font-size="7" text-anchor="middle" fill="#0d4a85" font-weight="normal" textLength="8.41" lengthAdjust="spacingAndGlyphs">56</text>
<text x="246.7" y="343.2" font-size="7" text-anchor="middle" fill="#0d4a85" font-weight="normal" textLength="8.41" lengthAdjust="spacingAndGlyphs">31</text>
<text x="271" y="343.2" font-size="7" text-anchor="middle" fill="#0d4a85" font-weight="normal" textLength="8.41" lengthAdjust="spacingAndGlyphs">27</text>
<text x="297.5" y="343.2" font-size="7" text-anchor="middle" fill="#0d4a85" font-weight="normal" textLength="8.41" lengthAdjust="spacingAndGlyphs">20</text>
<text x="322.9" y="343.2" font-size="7" text-anchor="middle" fill="#0d4a85" font-weight="normal" textLength="8.41" lengthAdjust="spacingAndGlyphs">17</text>
<text x="199.6" y="350.3" font-size="7.9" text-anchor="end" fill="#262626" font-weight="normal">≥ 4:</text>
<text x="218.9" y="350.3" font-size="7" text-anchor="middle" fill="#f9930f" font-weight="normal" textLength="8.41" lengthAdjust="spacingAndGlyphs">71</text>
<text x="246.7" y="350.3" font-size="7" text-anchor="middle" fill="#f9930f" font-weight="normal" textLength="8.41" lengthAdjust="spacingAndGlyphs">30</text>
<text x="271" y="350.3" font-size="7" text-anchor="middle" fill="#f9930f" font-weight="normal" textLength="8.41" lengthAdjust="spacingAndGlyphs">24</text>
<text x="297.5" y="350.3" font-size="7" text-anchor="middle" fill="#f9930f" font-weight="normal" textLength="8.41" lengthAdjust="spacingAndGlyphs">22</text>
<text x="322.9" y="350.3" font-size="7" text-anchor="middle" fill="#f9930f" font-weight="normal" textLength="8.41" lengthAdjust="spacingAndGlyphs">17</text>
<text x="357.6" y="202" font-size="11.8" text-anchor="start" fill="#000" font-weight="bold">F</text>
<text x="440.85" y="193.7" font-size="9.2" text-anchor="middle" fill="#231f20" font-weight="normal" textLength="124.9" lengthAdjust="spacingAndGlyphs">Hematopoietic Cell Transplantation</text>
<text x="440.85" y="202.5" font-size="9.2" text-anchor="middle" fill="#231f20" font-weight="normal" textLength="64.5" lengthAdjust="spacingAndGlyphs">Comorbidity Index</text>
<text x="446.3" y="211.2" font-size="9.2" text-anchor="middle" fill="#231f20" font-weight="normal" textLength="48.4" lengthAdjust="spacingAndGlyphs">Sheba cohort</text>
<path d="M387.4,216 L390,216 L390,294.3 L493.8,294.3 L493.8,297.1" fill="none" stroke="#3f3f3f" stroke-width="1.45"/>
<path d="M387.4,294.30 L390,294.30" stroke="#3f3f3f" stroke-width="1"/>
<text x="385.0" y="297.4" font-size="9" text-anchor="end" fill="#231f20" font-weight="normal" textLength="4.06" lengthAdjust="spacingAndGlyphs">0</text>
<path d="M387.4,274.73 L390,274.73" stroke="#3f3f3f" stroke-width="1"/>
<text x="385.0" y="277.83" font-size="9" text-anchor="end" fill="#231f20" font-weight="normal" textLength="14.21" lengthAdjust="spacingAndGlyphs">12.5</text>
<path d="M387.4,255.15 L390,255.15" stroke="#3f3f3f" stroke-width="1"/>
<text x="385.0" y="258.25" font-size="9" text-anchor="end" fill="#231f20" font-weight="normal" textLength="8.12" lengthAdjust="spacingAndGlyphs">25</text>
<path d="M387.4,232.40 L390,232.40" stroke="#3f3f3f" stroke-width="1"/>
<text x="385.0" y="238.67" font-size="9" text-anchor="end" fill="#231f20" font-weight="normal" textLength="14.21" lengthAdjust="spacingAndGlyphs">37.5</text>
<text x="385.0" y="219.1" font-size="9" text-anchor="end" fill="#231f20" font-weight="normal" textLength="8.12" lengthAdjust="spacingAndGlyphs">50</text>
<path d="M390.00,294.3 L390.00,297.1" stroke="#3f3f3f" stroke-width="1"/>
<text x="390.0" y="306.9" font-size="9" text-anchor="middle" fill="#231f20" font-weight="normal" textLength="4.06" lengthAdjust="spacingAndGlyphs">0</text>
<path d="M415.95,294.3 L415.95,297.1" stroke="#3f3f3f" stroke-width="1"/>
<text x="415.95" y="306.9" font-size="9" text-anchor="middle" fill="#231f20" font-weight="normal" textLength="4.06" lengthAdjust="spacingAndGlyphs">6</text>
<path d="M441.90,294.3 L441.90,297.1" stroke="#3f3f3f" stroke-width="1"/>
<text x="441.9" y="306.9" font-size="9" text-anchor="middle" fill="#231f20" font-weight="normal" textLength="8.12" lengthAdjust="spacingAndGlyphs">12</text>
<path d="M467.85,294.3 L467.85,297.1" stroke="#3f3f3f" stroke-width="1"/>
<text x="467.85" y="306.9" font-size="9" text-anchor="middle" fill="#231f20" font-weight="normal" textLength="8.12" lengthAdjust="spacingAndGlyphs">18</text>
<text x="493.8" y="306.9" font-size="9" text-anchor="middle" fill="#231f20" font-weight="normal" textLength="8.12" lengthAdjust="spacingAndGlyphs">24</text>
<text x="441.5" y="317.5" font-size="10.4" text-anchor="middle" fill="#231f20" font-weight="normal" textLength="20.6" lengthAdjust="spacingAndGlyphs" stroke="#231f20" stroke-width="0.18">Months</text>
<text x="0" y="0" font-size="8.9" text-anchor="middle" fill="#231f20" textLength="73.6" lengthAdjust="spacingAndGlyphs" stroke="#231f20" stroke-width="0.15" transform="translate(365.0,256.1) rotate(-90)">Non-relapse mortality, %</text>
<path d="M390,294.1 L391.3,283.2 L394.5,282.2 L398.9,280.5 L402.2,277.8 L405.4,274 L408.7,272.9 L410.9,271.3 L414.2,269.8 L446.5,270 L448.1,268.5 L450.8,268.5 L452.3,264.2 L491,264.1 L491.4,261.5 L493.8,261.5" fill="none" stroke="#c3132f" stroke-width="1.5" stroke-linejoin="miter" stroke-linecap="butt"/>
<path d="M390,294.1 L391.8,289.8 L392.9,282.2 L394.5,281.6 L397.8,281.6 L400,278.9 L403.3,276.7 L404.9,272.3 L406,269.6 L409.8,269.1 L421.5,269.4 L423.8,264.6 L433.8,264.6 L435,260.8 L493.8,260.8" fill="none" stroke="#2ea83f" stroke-width="1.5" stroke-dasharray="1.7,1.36" stroke-linejoin="miter" stroke-linecap="butt"/>
<path d="M390,294.1 L392.4,288.7 L395.6,286 L400,282.2 L404.3,277.8 L409.8,274.5 L413,268 L415.2,266.9 L421.8,266.5 L466,266.5 L467.5,264.2 L469.8,262.3 L474.5,261.5 L474.5,258.1 L492.2,258.1" fill="none" stroke="#4b2373" stroke-width="1.5" stroke-dasharray="3.8,1.75,1.1,1.75" stroke-linejoin="miter" stroke-linecap="butt"/>
<path d="M390,294.1 L390.7,293.1 L391.8,282.2 L392.9,270.2 L394,265.3 L395.6,263.6 L397.8,260.6 L400,256.3 L403.3,252.2 L406.5,247.8 L408.7,245.6 L412.5,244 L414.2,242.9 L421.8,242.9 L425.6,241.3 L428.3,240.1 L461.9,240.1 L463.7,235 L492,235" fill="none" stroke="#f9930f" stroke-width="1.5" stroke-dasharray="5.2,2.4" stroke-linejoin="miter" stroke-linecap="butt"/>
<text x="470.6" y="290.8" font-size="7.3" text-anchor="middle" fill="#231f20" font-weight="normal" textLength="46.9" lengthAdjust="spacingAndGlyphs">Gray’s p = 0.063</text>
<text x="370" y="329.0" font-size="7.9" text-anchor="end" fill="#262626" font-weight="normal">0–1:</text>
<text x="390.3" y="329.0" font-size="7" text-anchor="middle" fill="#c3132f" font-weight="normal" textLength="8.41" lengthAdjust="spacingAndGlyphs">84</text>
<text x="416.2" y="329.0" font-size="7" text-anchor="middle" fill="#c3132f" font-weight="normal" textLength="8.41" lengthAdjust="spacingAndGlyphs">55</text>
<text x="442.4" y="329.0" font-size="7" text-anchor="middle" fill="#c3132f" font-weight="normal" textLength="8.41" lengthAdjust="spacingAndGlyphs">51</text>
<text x="468" y="329.0" font-size="7" text-anchor="middle" fill="#c3132f" font-weight="normal" textLength="8.41" lengthAdjust="spacingAndGlyphs">40</text>
<text x="494.3" y="329.0" font-size="7" text-anchor="middle" fill="#c3132f" font-weight="normal" textLength="8.41" lengthAdjust="spacingAndGlyphs">29</text>
<text x="370" y="336.1" font-size="7.9" text-anchor="end" fill="#262626" font-weight="normal">2:</text>
<text x="390.3" y="336.1" font-size="7" text-anchor="middle" fill="#2ea83f" font-weight="normal" textLength="8.41" lengthAdjust="spacingAndGlyphs">38</text>
<text x="416.2" y="336.1" font-size="7" text-anchor="middle" fill="#2ea83f" font-weight="normal" textLength="8.41" lengthAdjust="spacingAndGlyphs">27</text>
<text x="442.4" y="336.1" font-size="7" text-anchor="middle" fill="#2ea83f" font-weight="normal" textLength="8.41" lengthAdjust="spacingAndGlyphs">22</text>
<text x="468" y="336.1" font-size="7" text-anchor="middle" fill="#2ea83f" font-weight="normal" textLength="8.41" lengthAdjust="spacingAndGlyphs">20</text>
<text x="494.3" y="336.1" font-size="7" text-anchor="middle" fill="#2ea83f" font-weight="normal" textLength="8.41" lengthAdjust="spacingAndGlyphs">16</text>
<text x="370" y="343.2" font-size="7.9" text-anchor="end" fill="#262626" font-weight="normal">3:</text>
<text x="390.3" y="343.2" font-size="7" text-anchor="middle" fill="#0d4a85" font-weight="normal" textLength="8.41" lengthAdjust="spacingAndGlyphs">40</text>
<text x="416.2" y="343.2" font-size="7" text-anchor="middle" fill="#0d4a85" font-weight="normal" textLength="8.41" lengthAdjust="spacingAndGlyphs">23</text>
<text x="442.4" y="343.2" font-size="7" text-anchor="middle" fill="#0d4a85" font-weight="normal" textLength="8.41" lengthAdjust="spacingAndGlyphs">22</text>
<text x="468" y="343.2" font-size="7" text-anchor="middle" fill="#0d4a85" font-weight="normal" textLength="8.41" lengthAdjust="spacingAndGlyphs">20</text>
<text x="494.3" y="343.2" font-size="7" text-anchor="middle" fill="#0d4a85" font-weight="normal" textLength="8.41" lengthAdjust="spacingAndGlyphs">17</text>
<text x="370" y="350.3" font-size="7.9" text-anchor="end" fill="#262626" font-weight="normal">≥ 4:</text>
<text x="390.3" y="350.3" font-size="7" text-anchor="middle" fill="#f9930f" font-weight="normal" textLength="8.41" lengthAdjust="spacingAndGlyphs">68</text>
<text x="416.2" y="350.3" font-size="7" text-anchor="middle" fill="#f9930f" font-weight="normal" textLength="8.41" lengthAdjust="spacingAndGlyphs">25</text>
<text x="442.4" y="350.3" font-size="7" text-anchor="middle" fill="#f9930f" font-weight="normal" textLength="8.41" lengthAdjust="spacingAndGlyphs">19</text>
<text x="468" y="350.3" font-size="7" text-anchor="middle" fill="#f9930f" font-weight="normal" textLength="8.41" lengthAdjust="spacingAndGlyphs">14</text>
<text x="494.3" y="350.3" font-size="7" text-anchor="middle" fill="#f9930f" font-weight="normal" textLength="7.85" lengthAdjust="spacingAndGlyphs">11</text>
</svg>
</body></html>
